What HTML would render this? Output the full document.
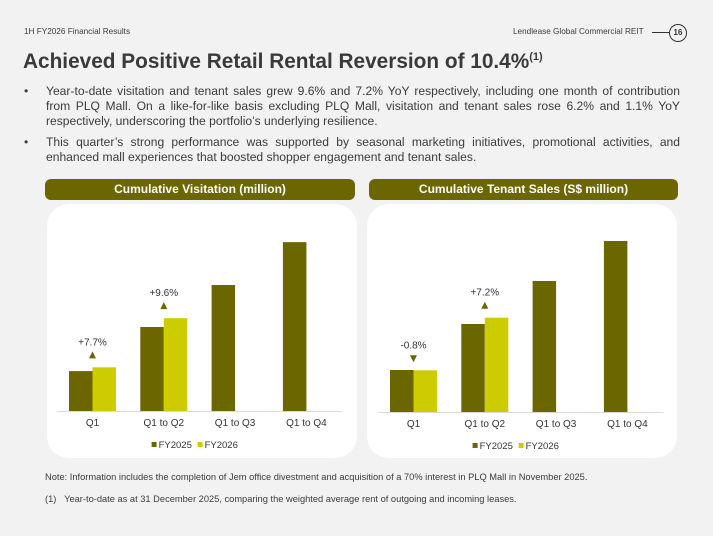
<!DOCTYPE html>
<html><head><meta charset="utf-8"><style>
body{margin:0;width:713px;height:536px;background:#f2f2f2;font-family:"Liberation Sans",sans-serif;color:#3b3b3b;position:relative;overflow:hidden}
.abs{position:absolute}
.hdr{font-size:8.2px;top:27px}
.title{left:23px;top:50px;font-size:20.8px;font-weight:bold;color:#3a3a3a}
.title sup{font-size:11px}
.bul{left:24px;width:656px;font-size:12.1px;line-height:15.2px}
.bul .dot{position:absolute;left:0;top:0}
.bul .txt{margin-left:22px;text-align:justify;text-align-last:left}
.tbar{background:#6b6600;color:#fff;font-weight:bold;font-size:12px;text-align:center;border-radius:6px;height:21px;line-height:21px}
.panel{background:#fff;border-radius:22px}
</style></head><body>
<div class="abs hdr" style="left:24px">1H FY2026 Financial Results</div>
<div class="abs hdr" style="left:513px">Lendlease Global Commercial REIT</div>
<div class="abs" style="left:652px;top:32px;width:17px;height:1px;background:#333"></div>
<div class="abs" style="left:669px;top:24px;width:16px;height:16px;border:1.3px solid #333;border-radius:50%;font-size:8px;font-weight:bold;text-align:center;line-height:16px;color:#333">16</div>
<div class="abs title">Achieved Positive Retail Rental Reversion of 10.4%<sup>(1)</sup></div>
<div class="abs bul" style="top:84px"><span class="dot">•</span><div class="txt">Year-to-date visitation and tenant sales grew 9.6% and 7.2% YoY respectively, including one month of contribution from PLQ Mall. On a like-for-like basis excluding PLQ Mall, visitation and tenant sales rose 6.2% and 1.1% YoY respectively, underscoring the portfolio’s underlying resilience.</div></div>
<div class="abs bul" style="top:135px"><span class="dot">•</span><div class="txt">This quarter’s strong performance was supported by seasonal marketing initiatives, promotional activities, and enhanced mall experiences that boosted shopper engagement and tenant sales.</div></div>

<div class="abs tbar" style="left:45px;top:179px;width:310px">Cumulative Visitation (million)</div>
<div class="abs panel" style="left:47px;top:204px;width:310px;height:254px"></div>
<div class="abs tbar" style="left:369px;top:179px;width:309px">Cumulative Tenant Sales (S$ million)</div>
<div class="abs panel" style="left:367px;top:204px;width:310px;height:254px"></div>

<svg class="abs" style="left:0;top:0" width="713" height="536"></svg>

<div class="abs" style="left:45px;top:472px;font-size:9.3px">Note: Information includes the completion of Jem office divestment and acquisition of a 70% interest in PLQ Mall in November 2025.</div>
<div class="abs" style="left:45px;top:494px;font-size:9.3px">(1)&nbsp;&nbsp;&nbsp;Year-to-date as at 31 December 2025, comparing the weighted average rent of outgoing and incoming leases.</div>

<script>
const categories=["Q1","Q1 to Q2","Q1 to Q3","Q1 to Q4"];
const visitFY2025=[4.75,10.0,15.0,20.1];
const visitFY2026=[5.2,11.05];
const visitGrowth=["+7.7%","+9.6%"];
const salesFY2025=[420,880,1310,1710];
const salesFY2026=[417,943];
const salesGrowth=["-0.8%","+7.2%"];
const NS="http://www.w3.org/2000/svg";
const svg=document.querySelector("svg");
function mk(t,a){const e=document.createElementNS(NS,t);for(const k in a)e.setAttribute(k,a[k]);svg.appendChild(e);return e;}
function chart(prefix,x0,base,scale,s1,s2,growth){
  const step=71.3,bw=23.5;
  const y=v=>base-v*scale;
  const ax=mk("line",{x1:x0-12,x2:x0+4*step-12,y1:base+0.5,y2:base+0.5,stroke:"#d9d9d9","stroke-width":1});
  
  
  categories.forEach((c,i)=>{
    const cx=x0+i*step+bw;
    const t=mk("text",{x:cx,y:base+15,"font-size":"10","text-anchor":"middle",fill:"#333","font-family":"Liberation Sans"});
    t.textContent=c;
    
    
  });
  s1.forEach((v,i)=>{
    const b=mk("rect",{x:x0+i*step,y:y(v),width:bw,height:v*scale,fill:"#6b6600"});
    
    
  });
  s2.forEach((v,i)=>{
    const bx=x0+i*step+bw,top=y(v);
    const b=mk("rect",{x:bx,y:top,width:bw,height:v*scale,fill:"#cccc00"});
    
    
    const g=growth[i],up=g[0]!=="-",cx=bx;
    const ty=top-12;
    const tri=mk("path",{d:up?`M${cx-3.5},${ty+3} L${cx+3.5},${ty+3} L${cx},${ty-4} Z`:`M${cx-3.5},${ty-3} L${cx+3.5},${ty-3} L${cx},${ty+4} Z`,fill:"#6b6600"});
    
    
    const t=mk("text",{x:cx,y:ty-10,"font-size":"10","text-anchor":"middle",fill:"#333","font-family":"Liberation Sans"});
    t.textContent=g;
    
    
  });
  const lx=x0+4*step/2-12-48;
  [["FY2025","#6b6600"],["FY2026","#cccc00"]].forEach((l,i)=>{
    const r=mk("rect",{x:lx+i*46,y:base+31,width:5,height:5,fill:l[1]});
    
    
    const t=mk("text",{x:lx+i*46+7,y:base+37,"font-size":"9.5","fill":"#333","font-family":"Liberation Sans"});
    t.textContent=l[0];
    
    
  });
}
chart("visitation",69,411,8.4,visitFY2025,visitFY2026,visitGrowth);
chart("sales",390,412,0.1,salesFY2025,salesFY2026,salesGrowth);
</script>
</body></html>
